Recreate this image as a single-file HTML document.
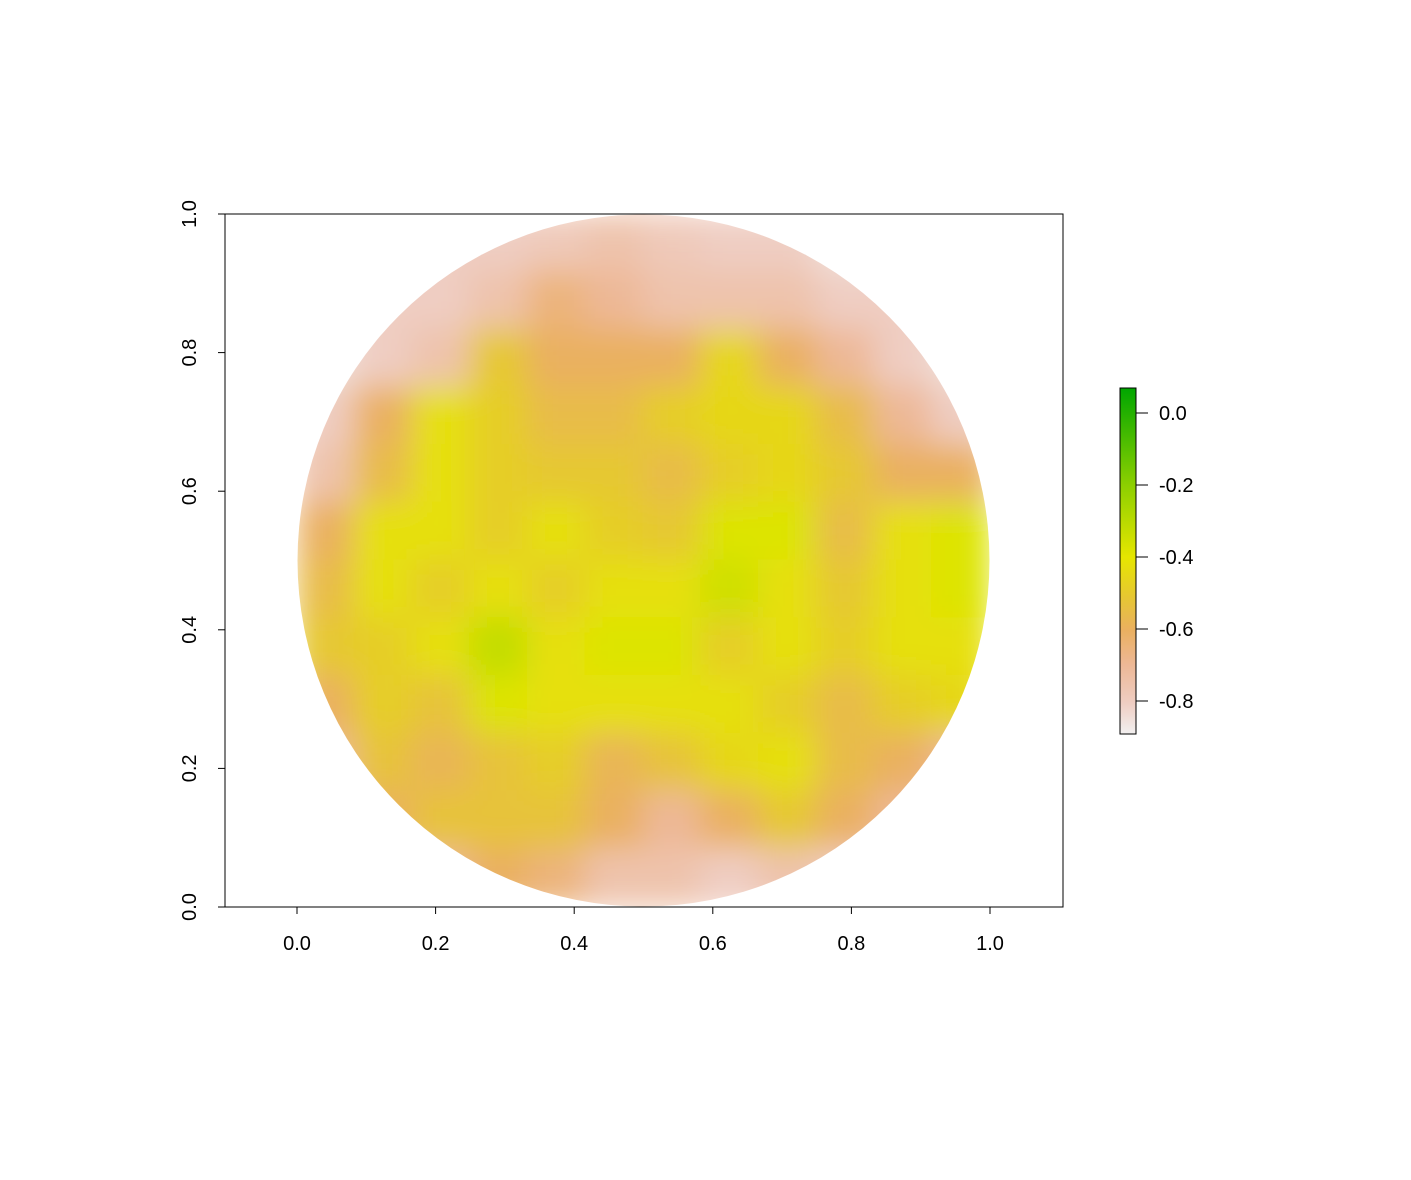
<!DOCTYPE html>
<html><head><meta charset="utf-8"><style>
body{margin:0;background:#fff}
svg text{font-family:"Liberation Sans",sans-serif;font-size:20px;fill:#000}
</style></head><body>
<svg width="1411" height="1175" xmlns="http://www.w3.org/2000/svg">
<defs>
<filter id="bl" x="-10%" y="-10%" width="120%" height="120%"><feGaussianBlur stdDeviation="16"/></filter>
<clipPath id="cc"><circle cx="643.5" cy="560.5" r="346"/></clipPath>
<linearGradient id="lg" x1="0" y1="1" x2="0" y2="0">
<stop offset="0" stop-color="#F2F0F0"/><stop offset="0.09" stop-color="#EFCDC2"/><stop offset="0.2" stop-color="#EDB896"/><stop offset="0.30" stop-color="#EAB060"/><stop offset="0.40" stop-color="#E6C830"/><stop offset="0.51" stop-color="#E6E600"/><stop offset="0.72" stop-color="#8CCF00"/><stop offset="1" stop-color="#00A600"/>
</linearGradient>
</defs>
<rect x="225" y="214" width="838" height="693" fill="none" stroke="#000" stroke-width="1"/>
<g id="raster" clip-path="url(#cc)"><g id="cells" filter="url(#bl)"></g></g>
<g id="axes"></g>
<rect x="1120" y="388" width="16" height="346" fill="url(#lg)" stroke="#000" stroke-width="1"/>
<g id="leg"></g>
</svg>
<script>
const xTicks=[0,0.2,0.4,0.6,0.8,1.0];
const yTicks=[0,0.2,0.4,0.6,0.8,1.0];
const legTicks=[0,-0.2,-0.4,-0.6,-0.8];
const grid=[
[-0.85,-0.85,-0.8,-0.8,-0.78,-0.75,-0.78,-0.8,-0.8,-0.85,-0.85,-0.85],
[-0.8,-0.8,-0.8,-0.75,-0.65,-0.7,-0.75,-0.75,-0.75,-0.8,-0.8,-0.8],
[-0.85,-0.8,-0.75,-0.5,-0.6,-0.6,-0.6,-0.45,-0.6,-0.7,-0.8,-0.85],
[-0.8,-0.6,-0.42,-0.48,-0.55,-0.55,-0.48,-0.45,-0.45,-0.55,-0.7,-0.8],
[-0.75,-0.55,-0.42,-0.48,-0.5,-0.5,-0.55,-0.48,-0.45,-0.5,-0.6,-0.6],
[-0.6,-0.42,-0.42,-0.48,-0.42,-0.48,-0.5,-0.38,-0.38,-0.55,-0.42,-0.38],
[-0.55,-0.42,-0.48,-0.42,-0.48,-0.42,-0.42,-0.35,-0.42,-0.5,-0.42,-0.38],
[-0.5,-0.48,-0.42,-0.32,-0.42,-0.38,-0.38,-0.48,-0.42,-0.48,-0.42,-0.42],
[-0.6,-0.48,-0.52,-0.38,-0.42,-0.42,-0.42,-0.42,-0.48,-0.55,-0.48,-0.45],
[-0.7,-0.52,-0.58,-0.52,-0.48,-0.58,-0.52,-0.45,-0.42,-0.55,-0.6,-0.7],
[-0.8,-0.6,-0.52,-0.52,-0.52,-0.6,-0.7,-0.6,-0.5,-0.6,-0.7,-0.8],
[-0.85,-0.8,-0.7,-0.6,-0.65,-0.75,-0.75,-0.8,-0.75,-0.8,-0.85,-0.85]];
const NS="http://www.w3.org/2000/svg";
const X=v=>297+v*693, Y=v=>907-v*693, L=v=>413-v*360;
const stops=[[-0.888,[242,240,240]],[-0.8,[239,205,194]],[-0.7,[237,184,150]],[-0.6,[234,176,96]],[-0.5,[230,200,48]],[-0.4,[230,230,0]],[-0.2,[140,207,0]],[0.069,[0,166,0]]];
function col(v){for(let i=1;i<stops.length;i++){if(v<=stops[i][0]){const a=stops[i-1],b=stops[i],t=Math.max(0,(v-a[0])/(b[0]-a[0]));return 'rgb('+a[1].map((c,k)=>Math.round(c+(b[1][k]-c)*t)).join(',')+')';}}return 'rgb(0,166,0)';}
function mk(t,at,p){const e=document.createElementNS(NS,t);for(const k in at)e.setAttribute(k,at[k]);p.appendChild(e);return e;}
const cells=document.getElementById('cells');
const n=grid.length, cw=1/n;
grid.forEach((row,r)=>row.forEach((v,c)=>{
 const e=mk('rect',{x:X(c*cw)-1,y:Y(1-r*cw)-1,width:cw*693+2,height:cw*693+2,fill:col(v)},cells);
 
 
}));
const ax=document.getElementById('axes');
xTicks.forEach(t=>{
 mk('line',{x1:X(t),x2:X(t),y1:907,y2:914,stroke:'#000'},ax);
 const e=mk('text',{x:X(t),y:950,'text-anchor':'middle'},ax);e.textContent=t.toFixed(1);
 
 
});
yTicks.forEach(t=>{
 mk('line',{x1:218,x2:225,y1:Y(t),y2:Y(t),stroke:'#000'},ax);
 const e=mk('text',{x:0,y:0,'text-anchor':'middle',transform:'translate(196,'+Y(t)+') rotate(-90)'},ax);e.textContent=t.toFixed(1);
 
 
});
const lg=document.getElementById('leg');
legTicks.forEach(t=>{
 mk('line',{x1:1136,x2:1148,y1:L(t),y2:L(t),stroke:'#000'},lg);
 const e=mk('text',{x:1159,y:L(t)+7},lg);e.textContent=t.toFixed(1);
 
 
});
</script>
</body></html>
